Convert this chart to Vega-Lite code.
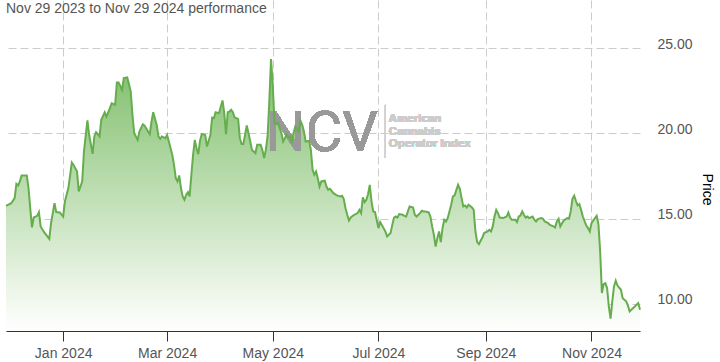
{
 "$schema": "https://vega.github.io/schema/vega-lite/v6.json",
 "width": 634,
 "height": 331,
 "autosize": {"type": "none"},
 "padding": {"left": 6, "top": 0, "right": 80, "bottom": 31},
 "background": "white",
 "title": {"text": "Nov 29 2023 to Nov 29 2024 performance", "anchor": "start", "frame": "group", "offset": -16, "fontSize": 14, "font": "Liberation Sans", "fontWeight": "normal", "color": "#555555"},
 "config": {"view": {"stroke": null}, "font": "Liberation Sans"},
 "data": {"values": [
{"date":"2023-11-29","price":15.75},{"date":"2023-12-02","price":15.9},{"date":"2023-12-04","price":16.2},{"date":"2023-12-05","price":17.04},{"date":"2023-12-06","price":16.94},{"date":"2023-12-07","price":17.18},{"date":"2023-12-08","price":17.53},{"date":"2023-12-11","price":17.53},{"date":"2023-12-12","price":16.79},{"date":"2023-12-13","price":15.6},{"date":"2023-12-14","price":14.48},{"date":"2023-12-15","price":15.06},{"date":"2023-12-17","price":15.16},{"date":"2023-12-18","price":15.38},{"date":"2023-12-19","price":14.54},{"date":"2023-12-21","price":14.2},{"date":"2023-12-24","price":13.81},{"date":"2023-12-25","price":14.73},{"date":"2023-12-27","price":15.9},{"date":"2023-12-28","price":15.38},{"date":"2023-12-30","price":15.36},
{"date":"2024-01-01","price":15.12},{"date":"2024-01-02","price":16.0},{"date":"2024-01-04","price":16.79},{"date":"2024-01-06","price":18.29},{"date":"2024-01-07","price":18.15},{"date":"2024-01-09","price":17.76},{"date":"2024-01-10","price":16.59},{"date":"2024-01-12","price":17.18},{"date":"2024-01-13","price":18.94},{"date":"2024-01-15","price":20.76},{"date":"2024-01-16","price":19.92},{"date":"2024-01-18","price":18.8},{"date":"2024-01-19","price":19.82},{"date":"2024-01-20","price":20.07},{"date":"2024-01-22","price":19.82},{"date":"2024-01-23","price":20.8},{"date":"2024-01-25","price":21.24},{"date":"2024-01-26","price":20.99},{"date":"2024-01-28","price":21.48},{"date":"2024-01-29","price":21.77},{"date":"2024-01-31","price":21.68},
{"date":"2024-02-01","price":22.99},{"date":"2024-02-02","price":22.99},{"date":"2024-02-04","price":22.56},{"date":"2024-02-05","price":23.24},{"date":"2024-02-07","price":23.28},{"date":"2024-02-08","price":22.89},{"date":"2024-02-09","price":22.46},{"date":"2024-02-10","price":21.09},{"date":"2024-02-11","price":20.01},{"date":"2024-02-13","price":19.62},{"date":"2024-02-14","price":20.11},{"date":"2024-02-16","price":20.54},{"date":"2024-02-17","price":20.46},{"date":"2024-02-19","price":20.11},{"date":"2024-02-20","price":19.95},{"date":"2024-02-21","price":20.7},{"date":"2024-02-22","price":21.24},{"date":"2024-02-24","price":20.5},{"date":"2024-02-25","price":19.82},{"date":"2024-02-26","price":19.68},{"date":"2024-02-27","price":19.82},{"date":"2024-02-29","price":19.72},
{"date":"2024-03-01","price":19.91},{"date":"2024-03-02","price":19.52},{"date":"2024-03-04","price":18.74},{"date":"2024-03-05","price":18.15},{"date":"2024-03-06","price":17.37},{"date":"2024-03-07","price":17.18},{"date":"2024-03-08","price":17.53},{"date":"2024-03-09","price":16.79},{"date":"2024-03-10","price":16.3},{"date":"2024-03-11","price":16.1},{"date":"2024-03-12","price":16.39},{"date":"2024-03-13","price":16.55},{"date":"2024-03-14","price":16.3},{"date":"2024-03-15","price":17.57},{"date":"2024-03-16","price":18.74},{"date":"2024-03-17","price":19.62},{"date":"2024-03-18","price":19.13},{"date":"2024-03-19","price":18.78},{"date":"2024-03-20","price":19.56},{"date":"2024-03-21","price":19.97},{"date":"2024-03-23","price":19.91},{"date":"2024-03-24","price":19.23},{"date":"2024-03-26","price":19.91},{"date":"2024-03-27","price":20.93},{"date":"2024-03-28","price":20.89},{"date":"2024-03-29","price":21.24},{"date":"2024-03-31","price":21.19},
{"date":"2024-04-01","price":21.58},{"date":"2024-04-02","price":21.93},{"date":"2024-04-03","price":21.19},{"date":"2024-04-04","price":19.95},{"date":"2024-04-05","price":21.24},{"date":"2024-04-06","price":21.28},{"date":"2024-04-07","price":21.38},{"date":"2024-04-08","price":21.24},{"date":"2024-04-09","price":20.93},{"date":"2024-04-11","price":20.85},{"date":"2024-04-12","price":19.72},{"date":"2024-04-13","price":19.37},{"date":"2024-04-14","price":19.37},{"date":"2024-04-16","price":20.46},{"date":"2024-04-17","price":20.01},{"date":"2024-04-18","price":19.52},{"date":"2024-04-19","price":19.03},{"date":"2024-04-21","price":18.84},{"date":"2024-04-22","price":19.33},{"date":"2024-04-24","price":19.33},{"date":"2024-04-25","price":19.03},{"date":"2024-04-26","price":18.55},{"date":"2024-04-27","price":19.03},{"date":"2024-04-28","price":19.82},{"date":"2024-04-29","price":21.87},{"date":"2024-04-30","price":24.37},
{"date":"2024-05-01","price":22.85},{"date":"2024-05-02","price":20.6},{"date":"2024-05-03","price":20.54},{"date":"2024-05-04","price":20.6},{"date":"2024-05-05","price":20.31},{"date":"2024-05-06","price":20.01},{"date":"2024-05-07","price":19.52},{"date":"2024-05-08","price":19.72},{"date":"2024-05-09","price":19.95},{"date":"2024-05-10","price":19.76},{"date":"2024-05-11","price":19.82},{"date":"2024-05-12","price":19.52},{"date":"2024-05-13","price":20.01},{"date":"2024-05-14","price":20.4},{"date":"2024-05-16","price":20.11},{"date":"2024-05-17","price":20.74},{"date":"2024-05-18","price":20.5},{"date":"2024-05-19","price":20.11},{"date":"2024-05-20","price":19.52},{"date":"2024-05-22","price":19.56},{"date":"2024-05-23","price":19.03},{"date":"2024-05-24","price":17.86},{"date":"2024-05-25","price":17.57},{"date":"2024-05-26","price":17.76},{"date":"2024-05-27","price":17.37},{"date":"2024-05-28","price":16.88},{"date":"2024-05-29","price":17.18},{"date":"2024-05-31","price":17.22},
{"date":"2024-06-01","price":16.88},{"date":"2024-06-02","price":16.69},{"date":"2024-06-03","price":16.75},{"date":"2024-06-05","price":16.49},{"date":"2024-06-07","price":16.36},{"date":"2024-06-09","price":16.3},{"date":"2024-06-10","price":16.34},{"date":"2024-06-11","price":16.14},{"date":"2024-06-12","price":15.61},{"date":"2024-06-13","price":15.22},{"date":"2024-06-14","price":14.89},{"date":"2024-06-15","price":15.06},{"date":"2024-06-17","price":15.22},{"date":"2024-06-19","price":15.32},{"date":"2024-06-20","price":15.51},{"date":"2024-06-21","price":15.32},{"date":"2024-06-22","price":16.24},{"date":"2024-06-23","price":15.96},{"date":"2024-06-24","price":16.1},{"date":"2024-06-25","price":16.43},{"date":"2024-06-26","price":16.98},{"date":"2024-06-27","price":16.0},{"date":"2024-06-28","price":15.42},{"date":"2024-06-29","price":15.38},{"date":"2024-06-30","price":14.93},
{"date":"2024-07-01","price":14.44},{"date":"2024-07-02","price":14.79},{"date":"2024-07-04","price":14.44},{"date":"2024-07-05","price":14.24},{"date":"2024-07-06","price":13.95},{"date":"2024-07-08","price":14.15},{"date":"2024-07-09","price":14.63},{"date":"2024-07-10","price":15.06},{"date":"2024-07-11","price":15.12},{"date":"2024-07-12","price":15.06},{"date":"2024-07-13","price":15.26},{"date":"2024-07-15","price":15.22},{"date":"2024-07-16","price":15.16},{"date":"2024-07-17","price":15.12},{"date":"2024-07-18","price":15.42},{"date":"2024-07-19","price":15.71},{"date":"2024-07-21","price":15.65},{"date":"2024-07-22","price":15.22},{"date":"2024-07-23","price":15.12},{"date":"2024-07-25","price":15.32},{"date":"2024-07-26","price":15.46},{"date":"2024-07-27","price":15.42},{"date":"2024-07-28","price":15.42},{"date":"2024-07-30","price":15.36},{"date":"2024-07-31","price":15.12},
{"date":"2024-08-01","price":14.54},{"date":"2024-08-02","price":14.05},{"date":"2024-08-03","price":13.36},{"date":"2024-08-04","price":13.85},{"date":"2024-08-05","price":14.24},{"date":"2024-08-06","price":13.62},{"date":"2024-08-07","price":14.44},{"date":"2024-08-08","price":14.93},{"date":"2024-08-09","price":14.83},{"date":"2024-08-10","price":15.03},{"date":"2024-08-11","price":15.42},{"date":"2024-08-12","price":15.81},{"date":"2024-08-13","price":16.3},{"date":"2024-08-14","price":16.36},{"date":"2024-08-15","price":16.69},{"date":"2024-08-16","price":16.98},{"date":"2024-08-17","price":16.75},{"date":"2024-08-18","price":16.2},{"date":"2024-08-19","price":15.71},{"date":"2024-08-20","price":15.77},{"date":"2024-08-21","price":15.65},{"date":"2024-08-22","price":15.81},{"date":"2024-08-24","price":15.65},{"date":"2024-08-25","price":15.51},{"date":"2024-08-26","price":14.24},{"date":"2024-08-27","price":13.62},{"date":"2024-08-28","price":13.5},{"date":"2024-08-29","price":13.7},{"date":"2024-08-30","price":13.89},{"date":"2024-08-31","price":14.15},
{"date":"2024-09-02","price":14.24},{"date":"2024-09-03","price":14.34},{"date":"2024-09-04","price":14.24},{"date":"2024-09-05","price":14.54},{"date":"2024-09-06","price":15.12},{"date":"2024-09-07","price":15.51},{"date":"2024-09-08","price":15.32},{"date":"2024-09-09","price":15.06},{"date":"2024-09-11","price":15.03},{"date":"2024-09-13","price":15.12},{"date":"2024-09-14","price":15.36},{"date":"2024-09-15","price":15.06},{"date":"2024-09-16","price":14.93},{"date":"2024-09-18","price":14.93},{"date":"2024-09-19","price":14.79},{"date":"2024-09-20","price":15.12},{"date":"2024-09-21","price":15.18},{"date":"2024-09-22","price":15.42},{"date":"2024-09-23","price":15.22},{"date":"2024-09-24","price":15.06},{"date":"2024-09-25","price":15.12},{"date":"2024-09-26","price":15.03},{"date":"2024-09-28","price":15.12},{"date":"2024-09-29","price":14.93},{"date":"2024-09-30","price":14.83},
{"date":"2024-10-01","price":14.97},{"date":"2024-10-03","price":15.03},{"date":"2024-10-04","price":14.99},{"date":"2024-10-05","price":14.83},{"date":"2024-10-07","price":14.73},{"date":"2024-10-08","price":14.63},{"date":"2024-10-10","price":14.54},{"date":"2024-10-11","price":14.48},{"date":"2024-10-12","price":14.83},{"date":"2024-10-13","price":14.99},{"date":"2024-10-14","price":14.54},{"date":"2024-10-15","price":14.73},{"date":"2024-10-16","price":14.89},{"date":"2024-10-18","price":15.03},{"date":"2024-10-19","price":14.99},{"date":"2024-10-20","price":15.42},{"date":"2024-10-21","price":16.16},{"date":"2024-10-22","price":16.34},{"date":"2024-10-23","price":16.04},{"date":"2024-10-24","price":15.77},{"date":"2024-10-25","price":15.85},{"date":"2024-10-26","price":15.51},{"date":"2024-10-27","price":15.12},{"date":"2024-10-29","price":14.59},{"date":"2024-10-30","price":14.44},{"date":"2024-10-31","price":14.24},
{"date":"2024-11-01","price":14.73},{"date":"2024-11-03","price":15.03},{"date":"2024-11-04","price":15.16},{"date":"2024-11-05","price":14.67},{"date":"2024-11-06","price":13.07},{"date":"2024-11-07","price":10.63},{"date":"2024-11-08","price":11.15},{"date":"2024-11-09","price":11.21},{"date":"2024-11-10","price":10.92},{"date":"2024-11-11","price":9.84},{"date":"2024-11-12","price":9.12},{"date":"2024-11-13","price":10.14},{"date":"2024-11-14","price":11.02},{"date":"2024-11-15","price":11.35},{"date":"2024-11-16","price":11.07},{"date":"2024-11-18","price":10.82},{"date":"2024-11-19","price":10.33},{"date":"2024-11-21","price":10.14},{"date":"2024-11-22","price":9.9},{"date":"2024-11-23","price":9.55},{"date":"2024-11-24","price":9.65},{"date":"2024-11-26","price":9.84},{"date":"2024-11-27","price":9.94},{"date":"2024-11-28","price":10.04},{"date":"2024-11-29","price":9.65}
 ]},
 "encoding": {
  "x": {"field": "date", "type": "temporal", "title": null,
   "scale": {"type": "utc", "domain": [{"year": 2023, "month": 11, "date": 29, "utc": true}, {"year": 2024, "month": 11, "date": 29, "utc": true}]},
   "axis": {"values": [{"year": 2024, "month": 1, "date": 1, "utc": true}, {"year": 2024, "month": 3, "date": 1, "utc": true}, {"year": 2024, "month": 5, "date": 1, "utc": true}, {"year": 2024, "month": 7, "date": 1, "utc": true}, {"year": 2024, "month": 9, "date": 1, "utc": true}, {"year": 2024, "month": 11, "date": 1, "utc": true}],
    "format": "%b %Y", "labelFont": "Liberation Sans", "labelFontSize": 14, "labelColor": "#555555", "domainColor": "#333333", "tickColor": "#333333", "tickSize": 10, "labelPadding": 5, "labelFlush": false, "labelOverlap": false, "grid": true, "gridColor": "#cccccc", "gridDash": [8, 4]}},
  "y": {"field": "price", "type": "quantitative",
   "scale": {"domain": [8.4, 27.83], "zero": false, "nice": false},
   "axis": {"orient": "right", "values": [10, 15, 20, 25], "format": ".2f", "labelFont": "Liberation Sans", "labelFontSize": 14, "labelColor": "#555555", "labelBaseline": "alphabetic", "labelPadding": 17, "ticks": false, "domain": false, "grid": true, "gridColor": "#cccccc", "gridDash": [8, 4],
    "title": "Price", "titleFont": "Liberation Sans", "titleFontSize": 14, "titleFontWeight": "normal", "titleColor": "#000000", "titleAngle": 90, "titleX": 66, "titleY": 189, "titleAlign": "center", "titleBaseline": "middle"}}
 },
 "layer": [
  {"mark": {"type": "area", "color": {"gradient": "linear", "x1": 0, "y1": 0, "x2": 0, "y2": 1, "stops": [{"offset": 0, "color": "#7fbe6a"}, {"offset": 1, "color": "#ffffff"}]}},
   "encoding": {"y2": {"datum": 8.4}}},
  {"mark": {"type": "text", "text": "NCV", "font": "Roboto", "fontSize": 56, "color": "#999999", "opacity": 0.5, "align": "left", "baseline": "alphabetic"},
   "encoding": {"x": {"datum": {"year": 2024, "month": 4, "date": 27, "utc": true}, "type": "temporal"}, "y": {"datum": 18.94, "type": "quantitative"}}},
  {"mark": {"type": "rule", "color": "#d0d0d0", "strokeWidth": 1},
   "encoding": {"x": {"datum": {"year": 2024, "month": 7, "date": 5, "utc": true}, "type": "temporal"}, "y": {"datum": 21.67, "type": "quantitative"}, "y2": {"datum": 18.57}}},
  {"mark": {"type": "text", "text": ["American", "Cannabis", "Operator Index"], "lineHeight": 12.7, "font": "Liberation Sans", "fontWeight": "bold", "fontSize": 11.5, "color": "#cccccc", "align": "left", "baseline": "middle"},
   "encoding": {"x": {"datum": {"year": 2024, "month": 7, "date": 7, "utc": true}, "type": "temporal"}, "y": {"datum": 20.85, "type": "quantitative"}}},
  {"mark": {"type": "line", "color": "#66ad4d", "strokeWidth": 2}}
 ]
}
